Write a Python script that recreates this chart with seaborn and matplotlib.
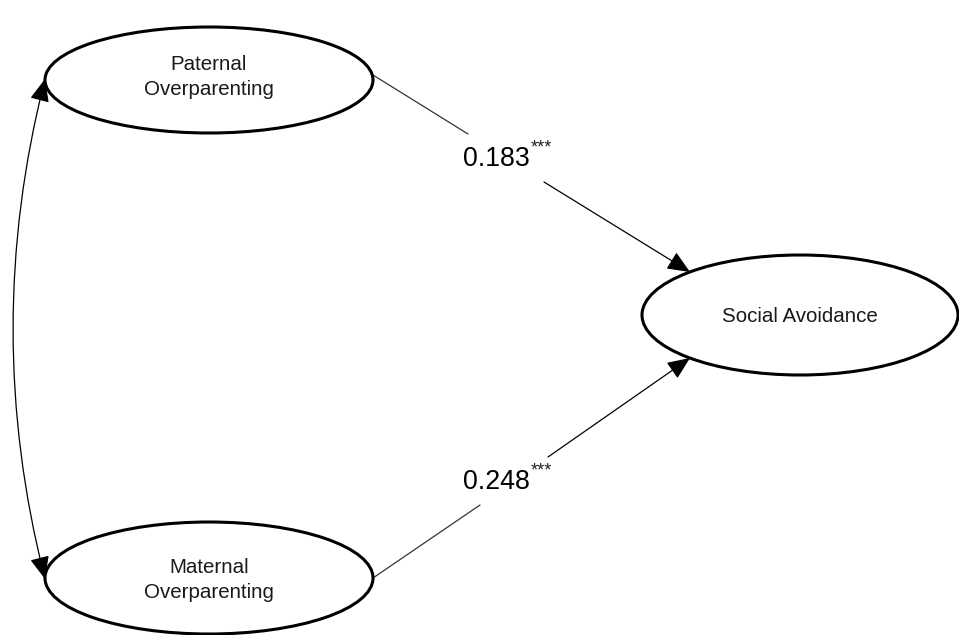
import matplotlib
matplotlib.use('Agg')
import matplotlib.pyplot as plt
from matplotlib.patches import Ellipse, FancyArrowPatch
import seaborn as sns

# data
node_names = ['Paternal\nOverparenting', 'Maternal\nOverparenting', 'Social Avoidance']
coef_values = ['0.183', '0.248']
coef_stars = ['***', '***']

# layout (pixel space)
node_xy = [(209, 80), (209, 578), (800, 315)]
node_wh = [(328, 106), (328, 112), (316, 120)]
text_dy = [-3, 2, 2]
path_start = [(373, 75), (373, 578)]
path_end = [(690, 272), (690, 358)]
path_gap = [((468, 134), (544, 182)), ((480, 505), (548, 457))]
label_xy = [(463, 159), (463, 482)]

sns.set_style('white')
plt.rcParams['font.family'] = ['Liberation Sans', 'DejaVu Sans']

fig = plt.figure(figsize=(9.59, 6.35), dpi=100)
ax = fig.add_axes([0, 0, 1, 1])
ax.set_xlim(0, 959)
ax.set_ylim(635, 0)
ax.axis('off')

head_opts = ',head_length=0.7,head_width=0.3'

for name, (cx, cy), (w, h), dy in zip(node_names, node_xy, node_wh, text_dy):
    ax.add_patch(Ellipse((cx, cy), w, h, fill=False, ec='black', lw=2.2, zorder=3))
    ax.text(cx, cy + dy, name, ha='center', va='center', fontsize=14.8,
            color='#1a1a1a', linespacing=1.45, zorder=4)

for s, e, (g1, g2), (lx, ly), val, st in zip(path_start, path_end, path_gap,
                                             label_xy, coef_values, coef_stars):
    ax.plot([s[0], g1[0]], [s[1], g1[1]], color='#333333', lw=0.9)
    ax.add_patch(FancyArrowPatch(g2, e, arrowstyle='-|>' + head_opts, mutation_scale=20,
                                 color='black', lw=0.9, shrinkA=0, shrinkB=0,
                                 zorder=5))
    ax.text(lx, ly, val, ha='left', va='center', fontsize=19.3, color='black')
    ax.text(lx + 68, ly - 11, st, ha='left', va='center', fontsize=13, color='#222222')

# correlation between the two parenting factors
ax.add_patch(FancyArrowPatch((45, 79), (45, 579), arrowstyle='<|-|>' + head_opts,
                             connectionstyle='arc3,rad=0.127', mutation_scale=20,
                             color='black', lw=0.9, shrinkA=0, shrinkB=0,
                             zorder=5))

plt.savefig('out.png', dpi=100, facecolor='white')
